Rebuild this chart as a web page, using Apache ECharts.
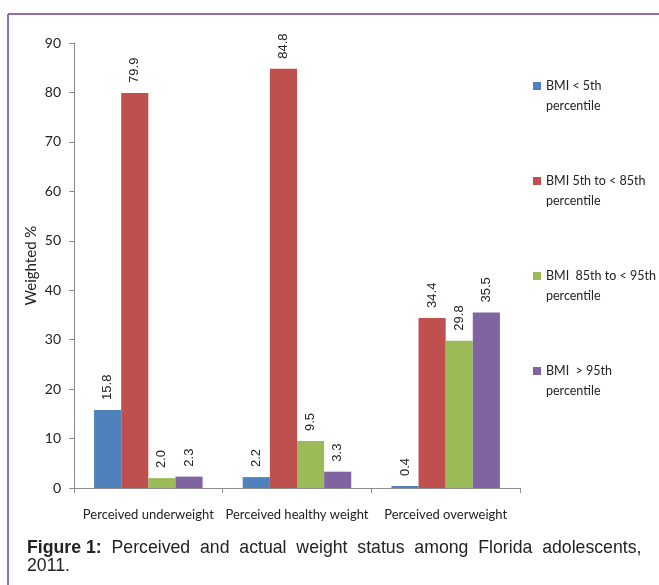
<!DOCTYPE html>
<html>
<head>
<meta charset="utf-8">
<script src="https://cdn.jsdelivr.net/npm/echarts@6/dist/echarts.min.js"></script>
<style>
  html, body { margin: 0; padding: 0; background: #fff; }
  #chart { width: 659px; height: 585px; }
</style>
</head>
<body>
<div id="chart"></div>
<script>
// Perception categories along the x axis
const categories = ['Perceived underweight', 'Perceived healthy weight', 'Perceived overweight'];

// Weighted % for each actual BMI group
const seriesNames = [
  'BMI < 5th percentile',
  'BMI 5th to < 85th percentile',
  'BMI  85th to < 95th percentile',
  'BMI  > 95th percentile'
];
const bmiUnder5 = [15.8, 2.2, 0.4];
const bmi5to85 = [79.9, 84.8, 34.4];
const bmi85to95 = [2.0, 9.5, 29.8];
const bmiOver95 = [2.3, 3.3, 35.5];

const yTicks = [0, 10, 20, 30, 40, 50, 60, 70, 80, 90];

const colors = ['#4F81BD', '#C0504D', '#9BBB59', '#8064A2'];
const values = [bmiUnder5, bmi5to85, bmi85to95, bmiOver95];

const uiFont = 'Lato, "Open Sans", sans-serif';
const captionFont = 'Arial, "Liberation Sans", sans-serif';

// Legend labels wrap before "percentile"; a blank leading line keeps the
// marker level with the first line of text
function legendLabel(name) {
  return ' \n' + name.replace(/ percentile$/, '\npercentile');
}

const chart = echarts.init(document.getElementById('chart'), null, { renderer: 'canvas' });

chart.setOption({
  animation: false,
  backgroundColor: '#ffffff',
  color: colors,
  grid: { left: 74, top: 43, right: 139, bottom: 97, containLabel: false },
  legend: {
    orient: 'vertical',
    left: 533,
    top: 56,
    padding: 0,
    itemWidth: 8,
    itemHeight: 8,
    itemGap: 35,
    icon: 'rect',
    data: seriesNames,
    formatter: legendLabel,
    textStyle: {
      fontFamily: uiFont,
      fontSize: 12.5,
      color: '#222',
      lineHeight: 20
    }
  },
  xAxis: {
    type: 'category',
    data: categories,
    axisLine: { lineStyle: { color: '#8c8c8c', width: 1 } },
    axisTick: { show: true, alignWithLabel: false, length: 5, lineStyle: { color: '#8c8c8c' } },
    axisLabel: { fontFamily: uiFont, fontSize: 13, color: '#222', margin: 20, interval: 0 }
  },
  yAxis: {
    type: 'value',
    min: yTicks[0],
    max: yTicks[yTicks.length - 1],
    interval: 10,
    name: 'Weighted %',
    nameLocation: 'middle',
    nameGap: 35,
    nameMoveOverlap: false,
    nameTextStyle: { fontFamily: uiFont, fontSize: 15, color: '#222' },
    axisLine: { show: true, lineStyle: { color: '#8c8c8c', width: 1 } },
    axisTick: { show: true, length: 5, lineStyle: { color: '#8c8c8c' } },
    axisLabel: { fontFamily: uiFont, fontSize: 14, color: '#222', margin: 13 },
    splitLine: { show: false }
  },
  series: seriesNames.map((name, i) => ({
    name: name,
    type: 'bar',
    data: values[i],
    barGap: '0%',
    barCategoryGap: '27%',
    itemStyle: { color: colors[i] },
    label: {
      show: true,
      position: 'top',
      rotate: 90,
      align: 'left',
      verticalAlign: 'middle',
      distance: 10,
      fontFamily: captionFont,
      fontSize: 13,
      color: '#222',
      formatter: p => p.value.toFixed(1)
    }
  })),
  graphic: [
    // frame lines
    { type: 'line', shape: { x1: 8, y1: 14, x2: 659, y2: 14 }, style: { stroke: '#6B3FA0', lineWidth: 1.5 } },
    { type: 'line', shape: { x1: 8, y1: 14, x2: 8, y2: 585 }, style: { stroke: '#6B3FA0', lineWidth: 1.5 } },
    // caption (justified first line)
    {
      type: 'text', x: 27, y: 548,
      style: {
        text: '{b|Figure 1:}  Perceived  and  actual  weight  status  among  Florida  adolescents,',
        font: '17.7px ' + captionFont,
        fill: '#222',
        verticalAlign: 'middle',
        rich: { b: { fontWeight: 'bold', fontSize: 17.7, fontFamily: captionFont, fill: '#222' } }
      }
    },
    {
      type: 'text', x: 27, y: 566,
      style: { text: '2011.', font: '17.7px ' + captionFont, fill: '#222', verticalAlign: 'middle' }
    }
  ]
});
</script>
</body>
</html>
